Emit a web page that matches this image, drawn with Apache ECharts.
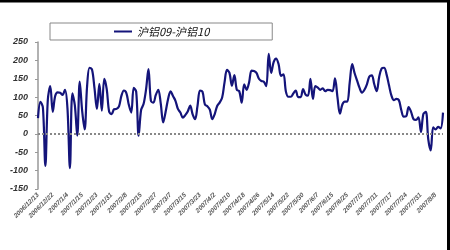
<!DOCTYPE html>
<html><head><meta charset="utf-8">
<script src="https://cdn.jsdelivr.net/npm/echarts@6/dist/echarts.min.js"></script>
<style>html,body{margin:0;padding:0;background:#fff}#c{width:450px;height:250px}</style>
</head><body><div id="c"></div>
<script>
const seriesName = '沪铝09-沪铝10';
const tickLabels = ['2006/12/13','2006/12/22','2007/1/4','2007/1/15','2007/1/23','2007/1/31','2007/2/8','2007/2/15','2007/2/27','2007/3/7','2007/3/15','2007/3/23','2007/4/2','2007/4/10','2007/4/18','2007/4/26','2007/5/14','2007/5/22','2007/5/30','2007/6/7','2007/6/15','2007/6/25','2007/7/3','2007/7/11','2007/7/17','2007/7/24','2007/7/31','2007/8/8'];
const pointsPerTick = 6;
const spread = [43,87,71,-87,93,130,60,103,113,112,106,120,70,-93,110,78,-5,142,62,12,
130,180,175,125,68,136,63,150,122,60,54,67,68,75,104,118,111,79,58,125,
115,-5,65,81,120,176,90,85,106,120,83,31,60,95,116,103,90,68,58,44,
51,61,77,53,40,77,118,115,80,75,66,40,54,76,85,98,140,174,166,131,
160,120,116,85,135,120,140,172,171,166,150,144,142,130,218,166,195,205,190,158,
162,115,101,101,110,118,100,100,122,107,104,150,95,130,126,120,124,116,120,119,
116,151,100,55,80,88,88,140,190,165,145,125,112,120,135,156,159,135,116,155,
178,180,162,132,104,92,95,92,65,47,48,73,60,40,38,45,5,54,60,-15,
-45,18,12,19,15,58];
const categories = spread.map((_, i) => String(i));

const chart = echarts.init(document.getElementById('c'), null, {renderer: 'canvas'});
chart.setOption({
  animation: false,
  backgroundColor: '#fff',
  grid: {left: 38, right: 7, top: 42, bottom: 61},
  legend: {
    left: 50, top: 23,
    padding: [3, 63, 3, 64],
    borderColor: '#888', borderWidth: 1,
    itemWidth: 18, itemHeight: 10, itemGap: 4,
    icon: 'path://M0,4L18,4L18,6L0,6Z',
    textStyle: {fontFamily: 'Noto Sans CJK SC', fontStyle: 'italic', fontSize: 11, color: '#111'},
    data: [seriesName]
  },
  xAxis: {
    type: 'category', data: categories, boundaryGap: false,
    axisLine: {show: false}, axisTick: {show: false}, splitLine: {show: false},
    axisLabel: {
      interval: pointsPerTick - 1, rotate: 45, margin: 5,
      fontFamily: 'Liberation Sans', fontStyle: 'italic', fontWeight: 'bold', fontSize: 6.5, color: '#555',
      formatter: (v, idx) => tickLabels[idx / pointsPerTick] || ''
    }
  },
  yAxis: {
    type: 'value', min: -150, max: 250, interval: 50,
    axisLine: {show: true, lineStyle: {color: '#999', width: 1.5}},
    axisTick: {show: true, length: 3, lineStyle: {color: '#999'}},
    splitLine: {show: false},
    axisLabel: {margin: 10, fontFamily: 'Liberation Sans', fontStyle: 'italic', fontWeight: 'bold', fontSize: 9, color: '#333'}
  },
  series: [{
    name: seriesName, type: 'line', data: spread, smooth: 0.35,
    showSymbol: false, symbol: 'none',
    lineStyle: {color: '#14147a', width: 2.2},
    itemStyle: {color: '#14147a'},
    markLine: {
      silent: true, symbol: 'none', label: {show: false},
      lineStyle: {color: '#888', type: 'dotted', width: 2},
      data: [{yAxis: 0}]
    }
  }],
  graphic: [
    {type: 'rect', shape: {x: 0, y: 0, width: 450, height: 2.5}, style: {fill: '#000'}},
    {type: 'rect', shape: {x: 447, y: 0, width: 3, height: 250}, style: {fill: '#000'}}
  ]
});
</script></body></html>
